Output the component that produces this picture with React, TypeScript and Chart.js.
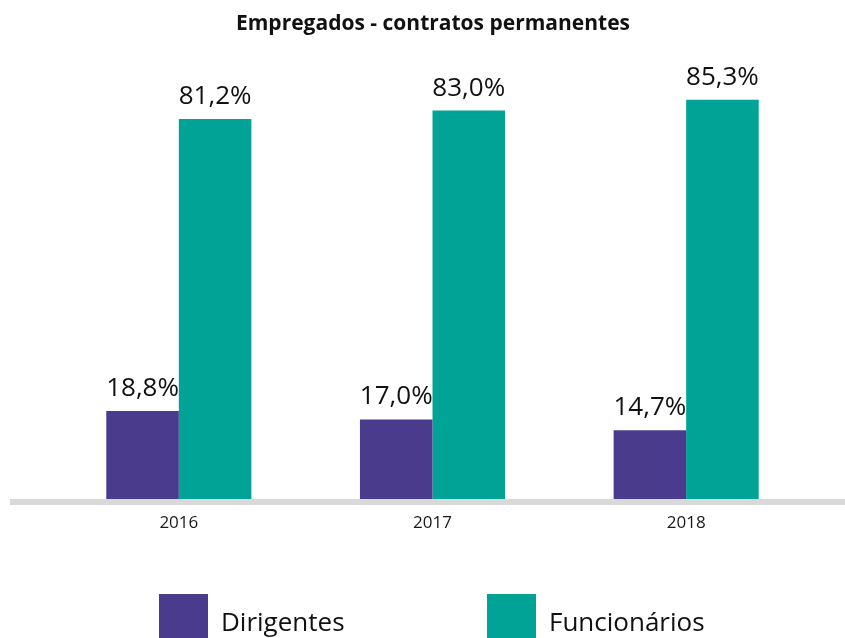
import React, { useEffect, useRef } from "react";
import { Chart, registerables } from "chart.js";

Chart.register(...registerables);

const TITLE = "Empregados - contratos permanentes";
const years = ["2016", "2017", "2018"];
const seriesNames = ["Dirigentes", "Funcionários"];
const dirigentes = [18.8, 17.0, 14.7];
const funcionarios = [81.2, 83.0, 85.3];
const colors = ["#4B3B8D", "#00A396"];
const FONT = "'Open Sans', 'DejaVu Sans', sans-serif";

const fmt = (v: number) => v.toFixed(1).replace(".", ",") + "%";

const decor = {
  id: "decor",
  afterDatasetsDraw(chart: any) {
    const ctx = chart.ctx;
    const area = chart.chartArea;
    ctx.save();
    // baseline
    ctx.fillStyle = "#D9D9D9";
    ctx.fillRect(10, area.bottom, 845 - 10, 6);
    // value labels
    ctx.fillStyle = "#111111";
    ctx.font = `26px ${FONT}`;
    ctx.textAlign = "center";
    ctx.textBaseline = "alphabetic";
    chart.data.datasets.forEach((ds: any, i: number) => {
      const meta = chart.getDatasetMeta(i);
      meta.data.forEach((el: any, j: number) => {
        ctx.fillText(fmt(ds.data[j]), el.x, el.y - 15);
      });
    });
    // title
    ctx.font = `bold 21px ${FONT}`;
    ctx.textBaseline = "middle";
    ctx.fillText(TITLE, 433, 24);
    // legend
    const legendX = [159, 487];
    ctx.font = `26px ${FONT}`;
    ctx.textAlign = "left";
    ctx.textBaseline = "alphabetic";
    chart.data.datasets.forEach((ds: any, i: number) => {
      ctx.fillStyle = ds.backgroundColor;
      ctx.fillRect(legendX[i], 594, 49, 50);
      ctx.fillStyle = "#111111";
      ctx.fillText(ds.label, legendX[i] + 62, 631);
    });
    ctx.restore();
  },
};

export default function App() {
  const ref = useRef<HTMLCanvasElement>(null);
  useEffect(() => {
    const chart = new Chart(ref.current!, {
      type: "bar",
      data: {
        labels: years,
        datasets: [
          { label: seriesNames[0], data: dirigentes, backgroundColor: colors[0] },
          { label: seriesNames[1], data: funcionarios, backgroundColor: colors[1] },
        ],
      },
      options: {
        animation: false,
        responsive: false,
        devicePixelRatio: 1,
        layout: { padding: { left: 52, right: 32, top: 31, bottom: 0 } },
        plugins: { legend: { display: false }, title: { display: false }, tooltip: { enabled: false } },
        datasets: { bar: { categoryPercentage: 0.572, barPercentage: 1, borderWidth: 0 } },
        scales: {
          y: { display: false, min: 0, max: 100 },
          x: {
            grid: { display: false, drawTicks: false },
            border: { display: false },
            ticks: { color: "#1a1a1a", font: { family: FONT, size: 17 }, padding: 14 },
            afterFit: (scale: any) => {
              scale.height = 139;
            },
          },
        },
      },
      plugins: [decor],
    });
    return () => chart.destroy();
  }, []);
  return (
    <div style={{ position: "fixed", left: 0, top: 0, width: 845, height: 638, background: "#fff" }}>
      <canvas ref={ref} width={845} height={638} />
    </div>
  );
}
